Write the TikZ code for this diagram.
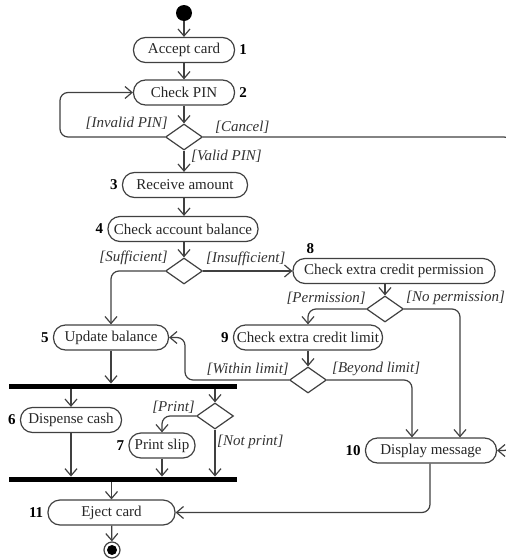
\documentclass[tikz,border=0pt]{standalone}
\usepackage{fontspec}
\setmainfont{Liberation Serif}
\usepackage{tikz}
\usetikzlibrary{arrows.meta}
\usepgflibrary{shapes}

\begin{document}
\begin{tikzpicture}[x=1pt,y=-1pt,
    act/.style={draw=black!75, line width=1.2pt, rounded corners=12pt, minimum height=25pt, inner sep=0pt, text=black!85, font=\fontsize{15pt}{18pt}\selectfont},
    dec/.style={diamond, draw=black!75, line width=1.2pt, minimum width=37pt, minimum height=26pt, inner sep=0pt},
    bar/.style={fill=black, minimum width=228pt, minimum height=5.5pt, inner sep=0pt},
    flow/.style={draw=black!75, line width=1.2pt, -{Straight Barb[length=7pt,width=12pt]}, rounded corners=8pt},
    guard/.style={font=\fontsize{15pt}{18pt}\selectfont\itshape, text=black!80, inner sep=0pt},
    num/.style={font=\fontsize{15pt}{18pt}\selectfont\bfseries, inner sep=4pt}]
      \useasboundingbox (0,0) rectangle (506,560);
      \node[name=start, circle, fill=black, minimum size=16pt, inner sep=0pt] at (184,13){};
      \node[name=acc, act, minimum width=101pt] at (184,50){Accept card};
      \node[name=pin, act, minimum width=101pt] at (184,92.5){Check PIN};
      \node[name=d1, dec] at (184,137){};
      \node[name=recv, act, minimum width=125pt] at (185,185){Receive amount};
      \node[name=bal, act, minimum width=150pt] at (183,229){Check account balance};
      \node[name=d2, dec] at (184,271){};
      \node[name=perm, act, minimum width=202pt] at (394,271){Check extra credit permission};
      \node[name=d3, dec] at (385,309){};
      \node[name=upd, act, minimum width=115pt] at (111,337.5){Update balance};
      \node[name=lim, act, minimum width=149pt] at (308,337.5){Check extra credit limit};
      \node[name=d4, dec] at (308,380){};
      \node[name=msg, act, minimum width=131pt] at (431,450.5){Display message};
      \node[name=bar1, bar] at (123,386.5){};
      \node[name=cash, act, minimum width=101pt] at (71,420){Dispense cash};
      \node[name=d5, dec] at (215,416){};
      \node[name=slip, act, minimum width=66pt] at (162,445.5){Print slip};
      \node[name=bar2, bar] at (123,479.5){};
      \node[name=eject, act, minimum width=127pt] at (111.5,512.5){Eject card};
      \node[name=fin, circle, draw=black!75, line width=1.2pt, minimum size=16pt, inner sep=0pt] at (112,550){};
      \fill (fin) circle (5pt);

      \draw[flow] (start) -- (acc);
      \draw[flow] (acc) -- (pin);
      \draw[flow] (pin) -- (d1);
      \draw[flow] (d1.west) -| (60,115) |- (pin.west);
      \draw[flow] (d1.east) -| (512,300) |- (msg.east);
      \draw[flow] (d1.south) -- (d1 |- recv.north);
      \draw[flow] (d1 |- recv.south) -- (d1 |- bal.north);
      \draw[flow] (d1 |- bal.south) -- (d2.north);
      \draw[flow] (d2.west) -| (upd.north);
      \draw[flow] (d2.east) -- (perm.west);
      \draw[flow] (d3 |- perm.south) -- (d3.north);
      \draw[flow] (d3.west) -| (lim.north);
      \draw[flow] (d3.east) -| ([xshift=29pt]msg.north);
      \draw[flow] (lim.south) -- (d4.north);
      \draw[flow] (d4.west) -| (185,360) |- (upd.east);
      \draw[flow] (d4.east) -| ([xshift=-19pt]msg.north);
      \draw[flow] (upd.south) -- (upd.south |- bar1.north);
      \draw[flow] (cash |- bar1.south) -- (cash.north);
      \draw[flow] (d5 |- bar1.south) -- (d5.north);
      \draw[flow] (d5.west) -| (slip.north);
      \draw[flow] (d5.south) -- (d5 |- bar2.north);
      \draw[flow] (cash.south) -- (cash |- bar2.north);
      \draw[flow] (slip.south) -- (slip |- bar2.north);
      \draw[flow] (eject |- bar2.south) -- (eject.north);
      \draw[flow] ([xshift=-1pt]msg.south) |- (eject.east);
      \draw[flow] (eject) -- (fin);

      \node[guard, anchor=east] at (168,123){[Invalid PIN]};
      \node[guard, anchor=west] at (215,127){[Cancel]};
      \node[guard, anchor=west] at (191,156){[Valid PIN]};
      \node[guard, anchor=east] at (168,258){[Sufficient]};
      \node[guard, anchor=west] at (206,259){[Insufficient]};
      \node[guard, anchor=east] at (366,298){[Permission]};
      \node[guard, anchor=west] at (406,298){[No permission]};
      \node[guard, anchor=east] at (289,369){[Within limit]};
      \node[guard, anchor=west] at (332,369){[Beyond limit]};
      \node[guard, anchor=east] at (195,407){[Print]};
      \node[guard, anchor=west] at (217,442){[Not print]};

      \node[num, right] at (acc.east){1};
      \node[num, right] at (pin.east){2};
      \node[num, left] at (recv.west){3};
      \node[num, left] at (bal.west){4};
      \node[num, left] at (upd.west){5};
      \node[num, left] at (cash.west){6};
      \node[num, left] at (slip.west){7};
      \node[num, above] at ([xshift=18pt]perm.north west){8};
      \node[num, left] at (lim.west){9};
      \node[num, left] at (msg.west){10};
      \node[num, left] at (eject.west){11};
    \end{tikzpicture}
\end{document}
